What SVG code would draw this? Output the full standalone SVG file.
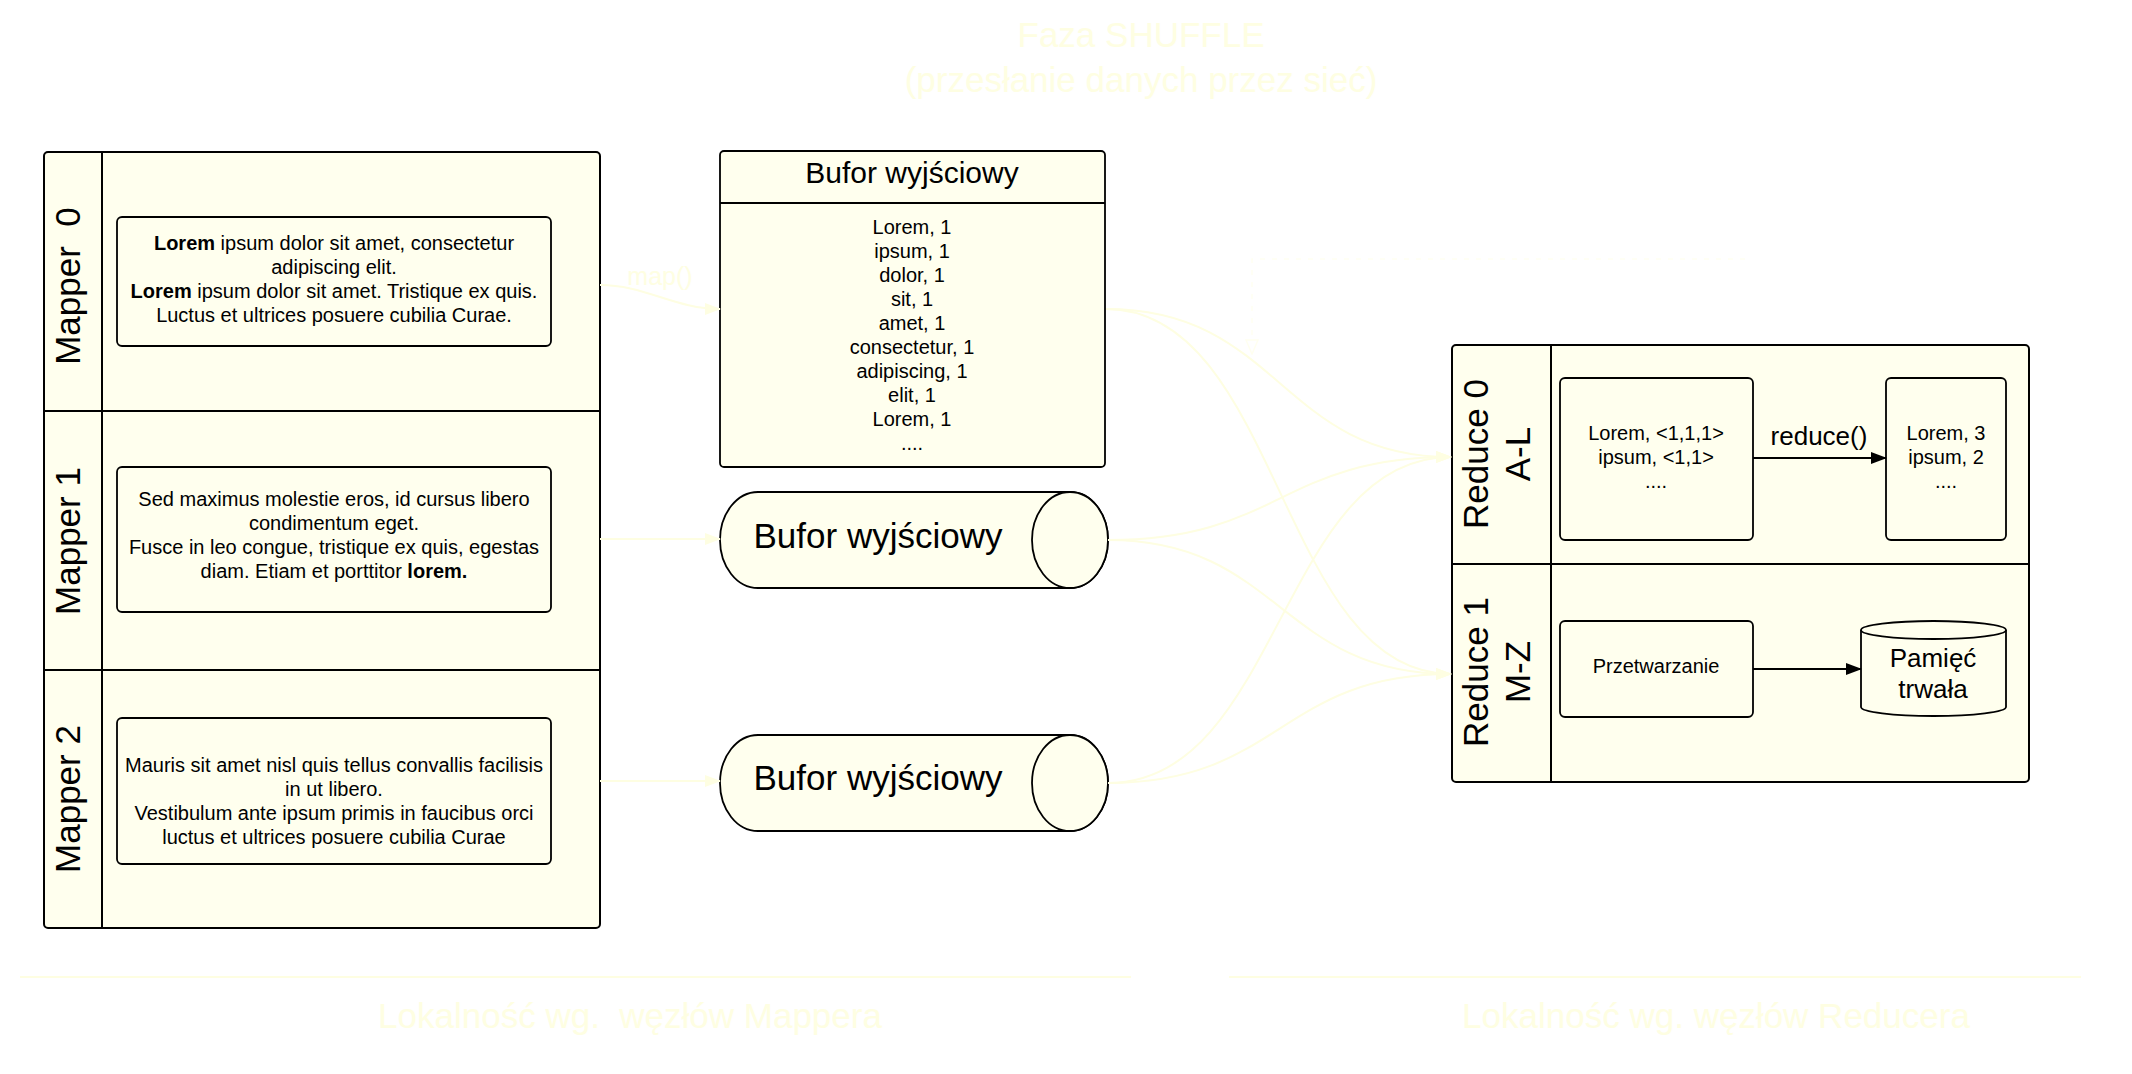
<svg xmlns="http://www.w3.org/2000/svg" width="2132" height="1074" viewBox="0 0 2132 1074">
<style>
text{font-family:"Liberation Sans",Arial,sans-serif;fill:#000}
.pool{fill:#FFFFEE;stroke:#000;stroke-width:2}
.dv{stroke:#000;stroke-width:2;fill:none}
.box{fill:#FFFFEE;stroke:#000;stroke-width:1.8}
.t20{font-size:20px;text-anchor:middle}
.lane{font-size:35px;text-anchor:middle}
.ft{fill:#FEFEE2;text-anchor:middle}
.fl{fill:none;stroke:#FEFEE2;stroke-width:2}
.arr{fill:none;stroke:#000;stroke-width:2}
</style>
<defs>
<marker id="ah" markerWidth="16" markerHeight="12" refX="15" refY="6" orient="auto" markerUnits="userSpaceOnUse"><path d="M0,0 L16,6 L0,12 Z" fill="#000"/></marker>
<marker id="ahf" markerWidth="16" markerHeight="12" refX="15" refY="6" orient="auto" markerUnits="userSpaceOnUse"><path d="M0,0 L16,6 L0,12 Z" fill="#FEFEE2"/></marker>
<marker id="aho" markerWidth="16" markerHeight="14" refX="15" refY="7" orient="auto" markerUnits="userSpaceOnUse"><path d="M1,1 L15,7 L1,13 Z" fill="#fff" stroke="#FFFFF0" stroke-width="1.5"/></marker>
</defs>
<rect x="0" y="0" width="2132" height="1074" fill="#fff"/>

<g id="title">
<text class="ft" x="1141" y="47" font-size="35">Faza SHUFFLE</text>
<text class="ft" x="1141" y="92" font-size="35">(przesłanie danych przez sieć)</text>
</g>

<g id="mapper-pool">
<rect class="pool" x="44" y="152" width="556" height="776" rx="4"/>
<line class="dv" x1="102" y1="152" x2="102" y2="928"/>
<line class="dv" x1="44" y1="411" x2="600" y2="411"/>
<line class="dv" x1="44" y1="670" x2="600" y2="670"/>
<text class="lane" transform="translate(80,286) rotate(-90)" xml:space="preserve">Mapper  0</text>
<text class="lane" transform="translate(80,541) rotate(-90)">Mapper 1</text>
<text class="lane" transform="translate(80,799) rotate(-90)">Mapper 2</text>
</g>

<g id="mapper0-input">
<rect class="box" x="117" y="217" width="434" height="129" rx="5"/>
<text class="t20" x="334" y="250"><tspan font-weight="bold">Lorem</tspan> ipsum dolor sit amet, consectetur</text>
<text class="t20" x="334" y="274">adipiscing elit.</text>
<text class="t20" x="334" y="298"><tspan font-weight="bold">Lorem</tspan> ipsum dolor sit amet. Tristique ex quis.</text>
<text class="t20" x="334" y="322">Luctus et ultrices posuere cubilia Curae.</text>
</g>

<g id="mapper1-input">
<rect class="box" x="117" y="467" width="434" height="145" rx="5"/>
<text class="t20" x="334" y="506">Sed maximus molestie eros, id cursus libero</text>
<text class="t20" x="334" y="530">condimentum eget.</text>
<text class="t20" x="334" y="554">Fusce in leo congue, tristique ex quis, egestas</text>
<text class="t20" x="334" y="578">diam. Etiam et porttitor <tspan font-weight="bold">lorem.</tspan></text>
</g>

<g id="mapper2-input">
<rect class="box" x="117" y="718" width="434" height="146" rx="5"/>
<text class="t20" x="334" y="772">Mauris sit amet nisl quis tellus convallis facilisis</text>
<text class="t20" x="334" y="796">in ut libero.</text>
<text class="t20" x="334" y="820">Vestibulum ante ipsum primis in faucibus orci</text>
<text class="t20" x="334" y="844">luctus et ultrices posuere cubilia Curae</text>
</g>

<g id="buffer0">
<rect class="box" x="720" y="151" width="385" height="316" rx="4" stroke-width="2"/>
<line class="dv" x1="720" y1="203" x2="1105" y2="203"/>
<text x="912" y="183" font-size="30" text-anchor="middle">Bufor wyjściowy</text>
<text class="t20" x="912" y="234">Lorem, 1</text>
<text class="t20" x="912" y="258">ipsum, 1</text>
<text class="t20" x="912" y="282">dolor, 1</text>
<text class="t20" x="912" y="306">sit, 1</text>
<text class="t20" x="912" y="330">amet, 1</text>
<text class="t20" x="912" y="354">consectetur, 1</text>
<text class="t20" x="912" y="378">adipiscing, 1</text>
<text class="t20" x="912" y="402">elit, 1</text>
<text class="t20" x="912" y="426">Lorem, 1</text>
<text class="t20" x="912" y="450">....</text>
</g>

<g id="buffer1">
<path class="box" stroke-width="2" d="M758,492 H1070 A38,48 0 0 1 1070,588 H758 A38,48 0 0 1 758,492 Z"/>
<ellipse class="box" stroke-width="2" cx="1070" cy="540" rx="38" ry="48"/>
<text x="878" y="548" font-size="35" text-anchor="middle">Bufor wyjściowy</text>
</g>

<g id="buffer2">
<path class="box" stroke-width="2" d="M758,735 H1070 A38,48 0 0 1 1070,831 H758 A38,48 0 0 1 758,735 Z"/>
<ellipse class="box" stroke-width="2" cx="1070" cy="783" rx="38" ry="48"/>
<text x="878" y="790" font-size="35" text-anchor="middle">Bufor wyjściowy</text>
</g>

<g id="reduce-pool">
<rect class="pool" x="1452" y="345" width="577" height="437" rx="4"/>
<line class="dv" x1="1551" y1="345" x2="1551" y2="782"/>
<line class="dv" x1="1452" y1="564" x2="2029" y2="564"/>
<text class="lane" transform="translate(1488,454) rotate(-90)">Reduce 0</text>
<text class="lane" transform="translate(1530,454) rotate(-90)">A-L</text>
<text class="lane" transform="translate(1488,672) rotate(-90)">Reduce 1</text>
<text class="lane" transform="translate(1530,672) rotate(-90)">M-Z</text>
</g>

<g id="reduce0-input">
<rect class="box" x="1560" y="378" width="193" height="162" rx="5"/>
<text class="t20" x="1656" y="440">Lorem, &lt;1,1,1&gt;</text>
<text class="t20" x="1656" y="464">ipsum, &lt;1,1&gt;</text>
<text class="t20" x="1656" y="488">....</text>
</g>

<g id="reduce0-output">
<rect class="box" x="1886" y="378" width="120" height="162" rx="5"/>
<text class="t20" x="1946" y="440">Lorem, 3</text>
<text class="t20" x="1946" y="464">ipsum, 2</text>
<text class="t20" x="1946" y="488">....</text>
</g>

<g id="reduce1-process">
<rect class="box" x="1560" y="621" width="193" height="96" rx="5"/>
<text class="t20" x="1656" y="673">Przetwarzanie</text>
</g>

<g id="reduce1-storage">
<path class="box" d="M1861,630 A72.5,9 0 0 1 2006,630 V707 A72.5,9 0 0 1 1861,707 Z"/>
<path class="box" fill="none" d="M1861,630 A72.5,9 0 0 0 2006,630"/>
<text x="1933" y="667" font-size="26" text-anchor="middle">Pamięć</text>
<text x="1933" y="698" font-size="26" text-anchor="middle">trwała</text>
</g>

<g id="locality">
<line class="fl" x1="20" y1="977" x2="1131" y2="977"/>
<line class="fl" x1="1229" y1="977" x2="2081" y2="977"/>
<text class="ft" x="630" y="1028" font-size="35" xml:space="preserve">Lokalność wg.  węzłów Mappera</text>
<text class="ft" x="1716" y="1028" font-size="35">Lokalność wg. węzłów Reducera</text>
</g>

<g id="connectors">
<path class="fl" d="M600,285 C645,285 675,309 720,309" marker-end="url(#ahf)"/>
<text class="ft" x="660" y="285" font-size="25">map()</text>
<path class="fl" d="M600,539 H720" marker-end="url(#ahf)"/>
<path class="fl" d="M600,781 H720" marker-end="url(#ahf)"/>
<path class="fl" d="M1106,309 C1280,309 1280,457 1451,457" marker-end="url(#ahf)"/>
<path class="fl" d="M1106,309 C1280,309 1280,674 1451,674" marker-end="url(#ahf)"/>
<path class="fl" d="M1108,540 C1280,540 1280,457 1451,457" marker-end="url(#ahf)"/>
<path class="fl" d="M1108,540 C1280,540 1280,674 1451,674" marker-end="url(#ahf)"/>
<path class="fl" d="M1108,783 C1280,783 1280,457 1451,457" marker-end="url(#ahf)"/>
<path class="fl" d="M1108,783 C1280,783 1280,674 1451,674" marker-end="url(#ahf)"/>
<path fill="none" stroke="#FFFFF2" stroke-width="1.5" stroke-dasharray="5,7" d="M1745,259 H1252 V354" marker-end="url(#aho)"/>
<line class="arr" x1="1753" y1="458" x2="1886" y2="458" marker-end="url(#ah)"/>
<text x="1819" y="445" font-size="26" text-anchor="middle">reduce()</text>
<line class="arr" x1="1753" y1="669" x2="1861" y2="669" marker-end="url(#ah)"/>
</g>
</svg>
